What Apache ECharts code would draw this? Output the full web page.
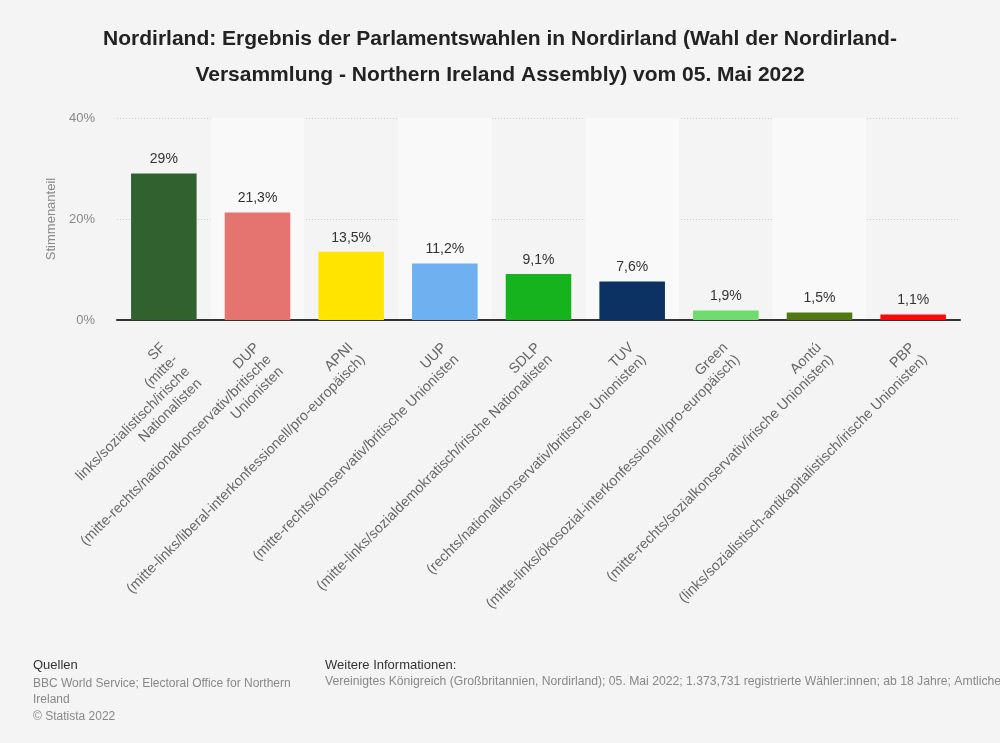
<!DOCTYPE html>
<html>
<head>
<meta charset="utf-8">
<script src="https://cdn.jsdelivr.net/npm/echarts@6/dist/echarts.min.js"></script>
<style>
html,body{margin:0;padding:0;background:#f4f4f4;}
#chart{width:1000px;height:743px;}
</style>
</head>
<body>
<div id="chart"></div>
<script>
const categories = [
  "SF\n(mitte-\nlinks/sozialistisch/irische\nNationalisten",
  "DUP\n(mitte-rechts/nationalkonservativ/britische\nUnionisten",
  "APNI\n(mitte-links/liberal-interkonfessionell/pro-europäisch)",
  "UUP\n(mitte-rechts/konservativ/britische Unionisten",
  "SDLP\n(mitte-links/sozialdemokratisch/irische Nationalisten",
  "TUV\n(rechts/nationalkonservativ/britische Unionisten)",
  "Green\n(mitte-links/ökosozial-interkonfessionell/pro-europäisch)",
  "Aontú\n(mitte-rechts/sozialkonservativ/irische Unionisten)",
  "PBP\n(links/sozialistisch-antikapitalistisch/irische Unionisten)"
];
const values = [29, 21.3, 13.5, 11.2, 9.1, 7.6, 1.9, 1.5, 1.1];
const barColors = ["#31612f", "#e57471", "#ffe400", "#6fb0f0", "#17b31f", "#0b3263", "#6fdc6f", "#527814", "#fb0808"];
const yTicks = [0, 20, 40];

const chart = echarts.init(document.getElementById('chart'));
chart.setOption({
  backgroundColor: '#f4f4f4',
  animation: false,
  title: {
    text: 'Nordirland: Ergebnis der Parlamentswahlen in Nordirland (Wahl der Nordirland-\nVersammlung - Northern Ireland Assembly) vom 05. Mai 2022',
    left: 'center',
    top: 16,
    textStyle: {fontFamily: 'Liberation Sans', fontWeight: 'bold', fontSize: 21, color: '#222', lineHeight: 36}
  },
  grid: {left: 117, right: 40, top: 118, bottom: 423, containLabel: false},
  xAxis: {
    type: 'category',
    data: categories,
    axisLine: {show: true, lineStyle: {color: '#333', width: 2}},
    axisTick: {show: false},
    splitArea: {show: true, areaStyle: {color: ['rgba(0,0,0,0)', '#f9f9f9']}},
    axisLabel: {
      interval: 0, rotate: 45, margin: 13,
      align: 'right', verticalAlign: 'top',
      padding: [0, 9, 0, 0],
      fontFamily: 'Liberation Sans', fontSize: 14.3, color: '#666', lineHeight: 17
    }
  },
  yAxis: {
    type: 'value',
    min: yTicks[0], max: yTicks[yTicks.length - 1], interval: 20,
    name: 'Stimmenanteil',
    nameLocation: 'middle',
    nameGap: 55,
    nameTextStyle: {fontFamily: 'Liberation Sans', fontSize: 13, color: '#888'},
    axisLine: {show: false},
    axisTick: {show: false},
    axisLabel: {formatter: '{value}%', fontFamily: 'Liberation Sans', fontSize: 13, color: '#888', margin: 22},
    splitLine: {show: true, lineStyle: {color: '#ccc', type: [1, 2], width: 1}}
  },
  series: [{
    type: 'bar',
    barWidth: '70%',
    data: values.map((v, i) => ({value: v, itemStyle: {color: barColors[i]}})),
    label: {
      show: true, position: 'top', distance: 7,
      formatter: p => String(p.value).replace('.', ',') + '%',
      fontFamily: 'Liberation Sans', fontSize: 14, color: '#333'
    }
  }],
  graphic: [
    {type: 'text', left: 33, top: 659, style: {text: 'Quellen', font: '13px "Liberation Sans"', fill: '#333'}},
    {type: 'text', left: 33, top: 675, style: {text: 'BBC World Service; Electoral Office for Northern\nIreland\n© Statista 2022', font: '12px "Liberation Sans"', fill: '#888', lineHeight: 16.5}},
    {type: 'text', left: 325, top: 659, style: {text: 'Weitere Informationen:', font: '13px "Liberation Sans"', fill: '#333'}},
    {type: 'text', left: 325, top: 676, style: {text: 'Vereinigtes Königreich (Großbritannien, Nordirland); 05. Mai 2022; 1.373,731 registrierte Wähler:innen; ab 18 Jahre; Amtliches Endergebnis', font: '12.2px "Liberation Sans"', fill: '#888'}}
  ]
});
</script>
</body>
</html>
